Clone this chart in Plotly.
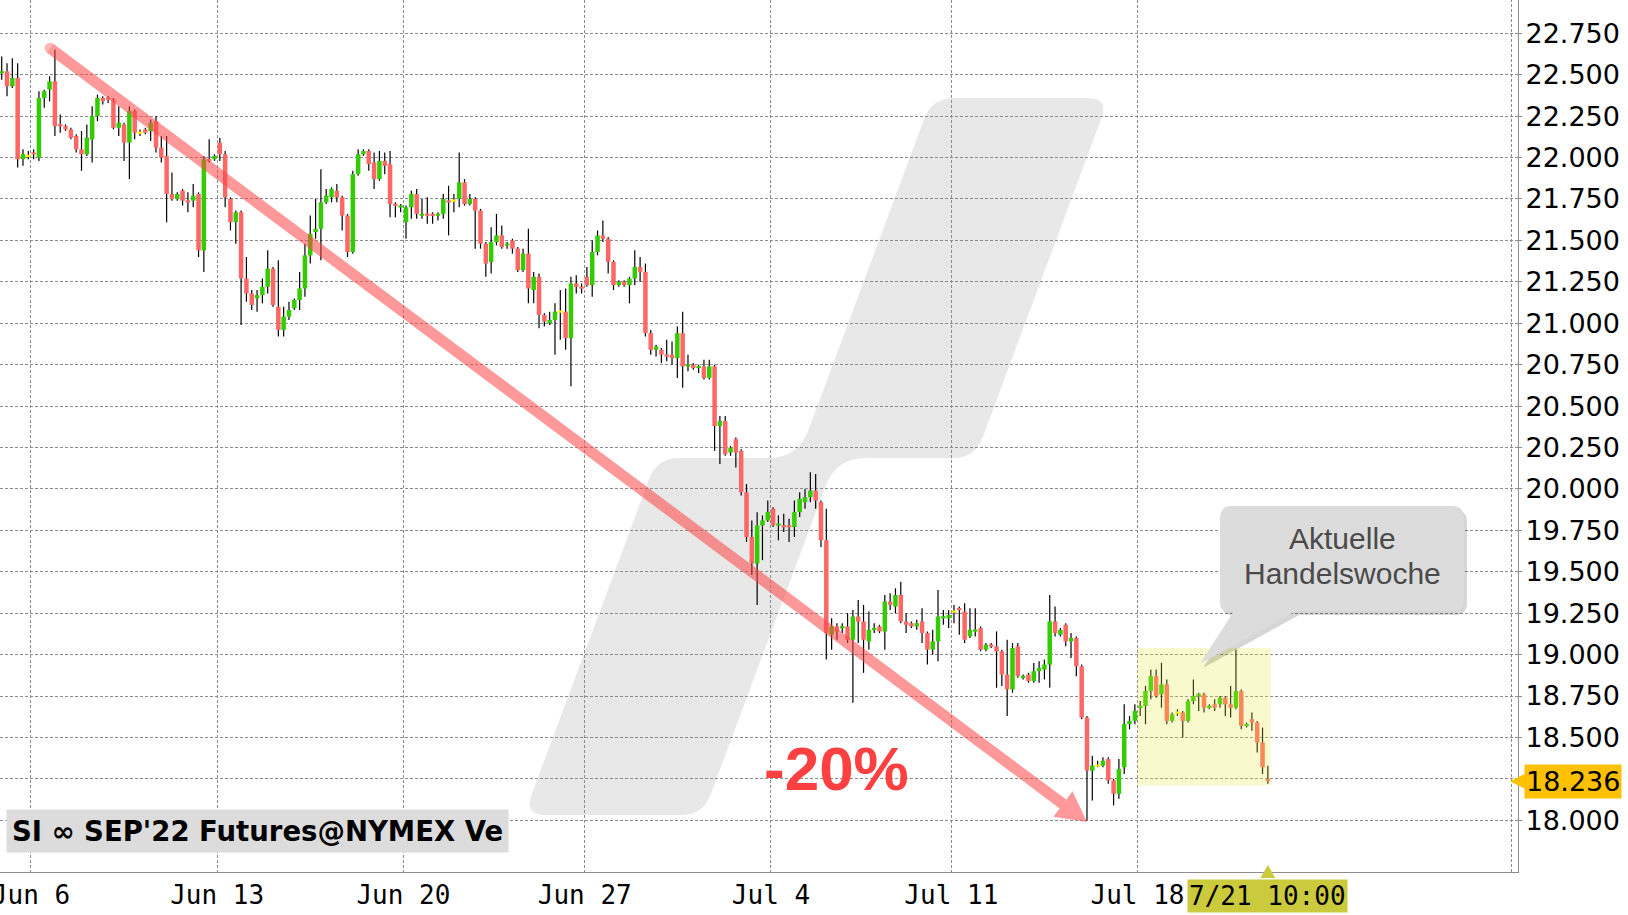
import math
import plotly.graph_objects as go

# ---------------- data ----------------
opens = [22.51,22.52,22.43,22.48,21.99,22.01,22.03,22.00,22.36,22.41,
         22.46,22.20,22.19,22.17,22.13,22.05,22.02,22.11,22.25,22.36,
         22.36,22.35,22.18,22.20,22.09,22.28,22.15,22.17,22.16,22.22,
         22.06,22.01,21.78,21.75,21.80,21.74,21.74,21.78,21.44,21.99,
         21.99,22.09,22.02,21.75,21.61,21.67,21.27,21.18,21.15,21.17,
         21.22,21.33,21.10,20.96,21.04,21.09,21.14,21.21,21.41,21.55,
         21.57,21.73,21.76,21.80,21.76,21.65,21.43,21.90,22.02,22.04,
         21.97,21.87,21.98,21.96,21.72,21.70,21.61,21.70,21.78,21.65,
         21.66,21.66,21.65,21.66,21.74,21.74,21.75,21.85,21.72,21.75,
         21.68,21.48,21.37,21.49,21.53,21.47,21.50,21.45,21.32,21.42,
         21.20,21.28,21.05,21.00,21.02,21.07,21.07,20.91,21.24,21.22,
         21.28,21.23,21.43,21.53,21.51,21.37,21.23,21.25,21.23,21.27,
         21.34,21.31,20.94,20.84,20.84,20.81,20.81,20.79,20.94,20.74,
         20.75,20.73,20.74,20.67,20.74,20.38,20.41,20.22,20.30,20.23,
         19.98,19.71,19.55,19.78,19.81,19.88,19.78,19.78,19.78,19.77,
         19.86,19.92,19.95,19.99,19.92,19.69,19.12,19.17,19.16,19.17,
         19.09,19.23,19.20,19.08,19.15,19.17,19.14,19.32,19.29,19.36,
         19.20,19.19,19.17,19.20,19.13,19.03,19.08,19.22,19.22,19.26,
         19.28,19.26,19.11,19.14,19.16,19.03,19.06,19.05,19.02,18.88,
         18.79,19.05,18.86,18.88,18.84,18.90,18.91,18.94,19.20,19.12,
         19.18,19.08,19.10,18.93,18.62,18.30,18.33,18.33,18.37,18.24,
         18.16,18.32,18.58,18.60,18.68,18.69,18.78,18.87,18.76,18.82,
         18.60,18.65,18.65,18.60,18.72,18.75,18.76,18.68,18.70,18.70,
         18.74,18.70,18.68,18.78,18.57,18.61,18.59,18.47,18.25]
highs = [22.61,22.57,22.60,22.57,22.05,22.04,22.05,22.40,22.41,22.49,
         22.65,22.26,22.20,22.18,22.14,22.16,22.20,22.31,22.38,22.37,
         22.37,22.36,22.31,22.21,22.31,22.29,22.17,22.18,22.23,22.25,
         22.13,22.13,21.91,21.79,21.81,21.79,21.84,21.79,22.01,22.11,
         22.02,22.12,22.04,21.76,21.68,21.68,21.40,21.20,21.20,21.27,
         21.44,21.34,21.38,21.10,21.13,21.15,21.31,21.48,21.65,21.75,
         21.93,21.81,21.82,21.84,21.77,21.66,21.92,22.05,22.05,22.05,
         22.03,22.04,22.03,22.04,21.73,21.72,21.71,21.80,21.81,21.75,
         21.76,21.67,21.67,21.78,21.83,21.78,22.03,21.87,21.78,21.76,
         21.69,21.49,21.58,21.66,21.59,21.49,21.51,21.46,21.45,21.57,
         21.31,21.30,21.06,21.07,21.12,21.20,21.21,21.28,21.29,21.24,
         21.34,21.50,21.56,21.62,21.52,21.38,21.26,21.26,21.28,21.44,
         21.40,21.36,20.96,20.87,20.85,20.90,20.89,20.98,21.07,20.81,
         20.76,20.75,20.78,20.78,20.75,20.44,20.44,20.26,20.31,20.24,
         20.03,19.81,19.86,19.84,19.93,19.89,19.84,19.85,19.82,19.93,
         19.98,20.00,20.10,20.09,19.93,19.88,19.22,19.19,19.19,19.25,
         19.27,19.33,19.30,19.26,19.19,19.18,19.36,19.37,19.40,19.44,
         19.25,19.20,19.21,19.28,19.14,19.15,19.39,19.27,19.27,19.30,
         19.29,19.31,19.28,19.28,19.17,19.07,19.07,19.14,19.03,19.09,
         19.07,19.07,18.88,18.89,18.95,18.96,18.97,19.36,19.29,19.16,
         19.19,19.13,19.11,18.94,18.63,18.39,18.36,18.38,18.38,18.25,
         18.37,18.70,18.63,18.70,18.72,18.81,18.91,18.91,18.95,18.85,
         18.65,18.67,18.66,18.73,18.85,18.77,18.77,18.70,18.73,18.75,
         18.75,18.81,19.03,18.79,18.59,18.65,18.60,18.56,18.33]
lows = [22.47,22.37,22.42,21.94,21.95,21.99,21.99,21.98,22.30,22.34,
        22.13,22.15,22.16,22.11,22.03,21.92,22.01,21.97,22.22,22.32,
        22.33,22.17,22.13,21.98,21.87,22.11,22.13,22.14,22.10,22.03,
        21.97,21.61,21.74,21.74,21.71,21.67,21.70,21.40,21.31,21.97,
        21.98,21.98,21.70,21.56,21.48,20.99,21.13,21.08,21.07,21.12,
        21.18,21.10,20.92,20.92,21.02,21.08,21.08,21.16,21.36,21.51,
        21.38,21.72,21.73,21.73,21.56,21.40,21.42,21.89,22.01,21.92,
        21.81,21.86,21.90,21.64,21.64,21.67,21.51,21.63,21.63,21.63,
        21.60,21.60,21.62,21.63,21.53,21.67,21.70,21.71,21.71,21.45,
        21.45,21.28,21.30,21.47,21.45,21.45,21.42,21.31,21.31,21.12,
        21.12,20.97,20.98,20.99,20.81,20.90,20.84,20.62,21.18,21.18,
        21.22,21.16,21.41,21.49,21.30,21.20,21.22,21.22,21.12,21.23,
        21.25,20.92,20.81,20.80,20.76,20.77,20.75,20.67,20.61,20.71,
        20.72,20.70,20.66,20.66,20.23,20.15,20.20,20.20,20.13,19.96,
        19.68,19.48,19.30,19.57,19.80,19.77,19.69,19.74,19.68,19.71,
        19.83,19.88,19.92,19.88,19.65,18.97,19.03,19.09,19.13,19.07,
        18.71,19.07,18.89,19.03,19.13,19.13,19.03,19.27,19.25,19.19,
        19.13,19.16,19.15,19.07,18.94,19.00,18.96,19.18,19.16,19.19,
        19.12,19.07,19.10,19.11,19.02,19.02,19.04,18.80,18.81,18.63,
        18.77,18.86,18.85,18.83,18.83,18.83,18.85,18.80,19.11,19.11,
        19.05,18.98,18.87,18.61,18.00,18.12,18.32,18.32,18.22,18.09,
        18.13,18.28,18.55,18.58,18.63,18.58,18.73,18.74,18.68,18.58,
        18.59,18.63,18.50,18.59,18.70,18.66,18.65,18.67,18.66,18.68,
        18.63,18.62,18.67,18.55,18.56,18.54,18.41,18.28,18.22]
closes = [22.52,22.43,22.48,21.99,22.02,22.01,22.02,22.36,22.40,22.46,
          22.19,22.19,22.17,22.12,22.05,22.02,22.12,22.25,22.36,22.34,
          22.35,22.18,22.21,22.09,22.28,22.15,22.15,22.15,22.21,22.06,
          22.00,21.78,21.75,21.78,21.74,21.73,21.77,21.44,21.99,21.98,
          22.01,22.02,21.76,21.61,21.67,21.27,21.18,21.11,21.17,21.22,
          21.33,21.11,20.96,21.04,21.08,21.14,21.21,21.41,21.54,21.57,
          21.73,21.77,21.81,21.76,21.65,21.43,21.90,22.02,22.04,21.96,
          21.87,21.98,21.95,21.72,21.71,21.71,21.70,21.78,21.66,21.66,
          21.65,21.65,21.66,21.75,21.73,21.74,21.85,21.72,21.75,21.68,
          21.48,21.36,21.49,21.53,21.46,21.48,21.45,21.32,21.42,21.21,
          21.28,21.05,21.01,21.02,21.07,21.07,20.91,21.24,21.22,21.21,
          21.23,21.43,21.53,21.51,21.37,21.23,21.25,21.23,21.27,21.34,
          21.31,20.94,20.84,20.86,20.81,20.80,20.79,20.94,20.74,20.75,
          20.73,20.74,20.67,20.74,20.38,20.41,20.21,20.25,20.22,19.98,
          19.71,19.55,19.78,19.81,19.86,19.78,19.79,19.77,19.77,19.86,
          19.94,19.95,19.99,19.93,19.69,19.13,19.17,19.14,19.17,19.09,
          19.23,19.20,19.09,19.15,19.16,19.14,19.32,19.30,19.36,19.20,
          19.18,19.17,19.19,19.13,19.03,19.08,19.23,19.23,19.24,19.26,
          19.27,19.09,19.15,19.15,19.03,19.06,19.05,19.02,18.88,18.79,
          19.04,18.87,18.87,18.84,18.90,18.92,18.94,19.20,19.13,19.15,
          19.08,19.10,18.93,18.62,18.30,18.33,18.33,18.36,18.24,18.16,
          18.31,18.58,18.60,18.66,18.69,18.78,18.87,18.75,18.82,18.60,
          18.64,18.65,18.60,18.72,18.75,18.76,18.68,18.69,18.68,18.74,
          18.70,18.68,18.78,18.57,18.58,18.59,18.47,18.32,18.236]

week_tick_pos = [5.5, 40.5, 75.5, 109.6, 144.6, 178.5, 213.5]
week_tick_text = ["Jun 6", "Jun 13", "Jun 20", "Jun 27", "Jul 4", "Jul 11", "Jul 18"]
price_ticks = [18.0, 18.25, 18.5, 18.75, 19.0, 19.25, 19.5, 19.75, 20.0, 20.25,
               20.5, 20.75, 21.0, 21.25, 21.5, 21.75, 22.0, 22.25, 22.5, 22.75]
price_tick_text = ["18.000", "18.250", "18.500", "18.750", "19.000", "19.250",
                   "19.500", "19.750", "20.000", "20.250", "20.500", "20.750",
                   "21.000", "21.250", "21.500", "21.750", "22.000", "22.250",
                   "22.500", "22.750"]
last_price_text = "18.236"
last_time_text = "7/21 10:00"
instrument_text = "SI \u221e SEP'22 Futures@NYMEX Ve"
trend_start = (9.08, 22.66)     # index, price
trend_end = (204.0, 17.99)
trend_label = "-20%"
callout_lines = ["Aktuelle", "Handelswoche"]

# ---------------- styling constants ----------------
W, H = 1628, 915
ML, MR, MT, MB = 0, 110, 0, 43
PW, PH = W - ML - MR, H - MT - MB
X_RANGE = [-0.32, 285.02]
Y_RANGE = [17.688, 22.951]
GREEN, RED, YELLOW = "#33cc00", "#ff6666", "#ffee00"
GRID = "#8c8c8c"
ARROW_RGB = (255, 70, 70)
ARROW_ALPHA = 0.55


def px(x):
    return x / PW


def py(y):
    return 1 - y / PH


def data_to_pix(i, p):
    return ((i - X_RANGE[0]) / (X_RANGE[1] - X_RANGE[0]) * PW,
            (Y_RANGE[1] - p) / (Y_RANGE[1] - Y_RANGE[0]) * PH)


def pix_to_data(x, y):
    return (X_RANGE[0] + x / PW * (X_RANGE[1] - X_RANGE[0]),
            Y_RANGE[1] - y / PH * (Y_RANGE[1] - Y_RANGE[0]))


def rounded_path(pts, radii):
    n = len(pts)
    corners = []
    for k in range(n):
        p0, p1, p2 = pts[k - 1], pts[k], pts[(k + 1) % n]
        r = radii[k]
        d1 = (p0[0] - p1[0], p0[1] - p1[1])
        d2 = (p2[0] - p1[0], p2[1] - p1[1])
        l1, l2 = math.hypot(*d1), math.hypot(*d2)
        a = (p1[0] + d1[0] / l1 * r, p1[1] + d1[1] / l1 * r)
        b = (p1[0] + d2[0] / l2 * r, p1[1] + d2[1] / l2 * r)
        corners.append((a, p1, b))
    f = lambda p: f"{px(p[0]):.5f},{py(p[1]):.5f}"
    s = "M " + f(corners[0][0])
    for a, c, b in corners:
        s += " L " + f(a) + " Q " + f(c) + " " + f(b)
    return s + " Z"


n = len(closes)
idx = list(range(n))

# wicks
wx, wy = [], []
for i in idx:
    wx += [i, i, None]
    wy += [lows[i], highs[i], None]

# bodies grouped by colour
bodies = {GREEN: ([], []), RED: ([], []), YELLOW: ([], [])}
MIN_BODY = 0.013
for i in idx:
    o, c = opens[i], closes[i]
    col = GREEN if c > o else (RED if c < o else YELLOW)
    lo, hi = min(o, c), max(o, c)
    if hi - lo < MIN_BODY:
        mid = (hi + lo) / 2
        lo, hi = mid - MIN_BODY / 2, mid + MIN_BODY / 2
    bodies[col][0].extend([i, i, None])
    bodies[col][1].extend([lo, hi, None])

fig = go.Figure()
fig.add_trace(go.Scatter(x=wx, y=wy, mode="lines", line=dict(color="black", width=1.2),
                         hoverinfo="skip"))
for col, (bx, by) in bodies.items():
    fig.add_trace(go.Scatter(x=bx, y=by, mode="lines", line=dict(color=col, width=4.5),
                             hoverinfo="skip"))

# trend arrow: shaft (trace) + head (shape), meeting at the head's base
sx, sy = data_to_pix(*trend_start)
tx, ty = data_to_pix(*trend_end)
L = math.hypot(tx - sx, ty - sy)
dx, dy = (tx - sx) / L, (ty - sy) / L
HEAD_LEN, HEAD_HALF = 30, 16
bx_, by_ = tx - HEAD_LEN * dx, ty - HEAD_LEN * dy
shaft_end = pix_to_data(bx_, by_)
arrow_col = "rgb(%d,%d,%d)" % ARROW_RGB
fig.add_trace(go.Scatter(
    x=[trend_start[0], shaft_end[0]], y=[trend_start[1], shaft_end[1]],
    mode="lines+markers",
    line=dict(color=arrow_col, width=11),
    marker=dict(symbol="circle", size=[11, 0], color=arrow_col, line=dict(width=0)),
    opacity=ARROW_ALPHA, hoverinfo="skip"))
w1 = (bx_ - HEAD_HALF * dy, by_ + HEAD_HALF * dx)
w2 = (bx_ + HEAD_HALF * dy, by_ - HEAD_HALF * dx)

shapes = []
# watermark logo
logo = [(932, 98), (1109, 98), (975, 458), (836, 458), (703, 815), (524, 815),
        (657, 458), (798, 458)]
shapes.append(dict(type="path", xref="paper", yref="paper",
                   path=rounded_path(logo, [22, 22, 22, 30, 22, 22, 22, 30]),
                   fillcolor="#e8e8e8", line=dict(width=0), layer="below"))
# right dotted border
shapes.append(dict(type="line", xref="x", yref="paper", x0=283.8, x1=283.8, y0=0, y1=1,
                   line=dict(color=GRID, width=1, dash="3px,2px"), layer="below"))
# arrow head
shapes.append(dict(type="path", xref="paper", yref="paper",
                   path=(f"M {px(tx):.5f},{py(ty):.5f} L {px(w1[0]):.5f},{py(w1[1]):.5f} "
                         f"L {px(w2[0]):.5f},{py(w2[1]):.5f} Z"),
                   fillcolor="rgba(%d,%d,%d,%.2f)" % (*ARROW_RGB, ARROW_ALPHA),
                   line=dict(width=0), layer="above"))
# current-week highlight
wk = [i for i in idx if i > week_tick_pos[-1]]
shapes.append(dict(type="rect", xref="x", yref="y", x0=week_tick_pos[-1], x1=wk[-1] + 0.5,
                   y0=min(lows[i] for i in wk) - 0.01, y1=max(highs[i] for i in wk) + 0.01,
                   fillcolor="rgba(227,235,55,0.25)", line=dict(width=0), layer="above"))
# callout with shadow
callout = [(1220, 506), (1464, 506), (1464, 611), (1296, 611), (1200, 664), (1234, 611),
           (1220, 611)]
callout_sh = [(x + 3, y + 4) for x, y in callout]
shapes.append(dict(type="path", xref="paper", yref="paper",
                   path=rounded_path(callout_sh, [12, 12, 12, 1, 2, 1, 8]),
                   fillcolor="rgba(0,0,0,0.16)", line=dict(width=0), layer="above"))
shapes.append(dict(type="path", xref="paper", yref="paper",
                   path=rounded_path(callout, [12, 12, 12, 1, 2, 1, 8]),
                   fillcolor="#dcdcdc", line=dict(width=0), layer="above"))
# last price pointer
lp = closes[-1]
shapes.append(dict(type="path", xref="paper", yref="y",
                   path=f"M {px(1510):.5f},{lp} L {px(1525):.5f},{lp + 0.045} L {px(1525):.5f},{lp - 0.045} Z",
                   fillcolor="#ffc000", line=dict(width=0), layer="above"))
# last time pointer
shapes.append(dict(type="path", xref="x", yref="paper",
                   path=f"M {n - 1},{py(865):.5f} L {n - 1 + 1.4},{py(878):.5f} L {n - 1 - 1.4},{py(878):.5f} Z",
                   fillcolor="#caca3c", line=dict(width=0), layer="above"))

annotations = [
    dict(text="<b>" + trend_label + "</b>", xref="paper", yref="paper", x=px(836), y=py(768),
         xanchor="center", yanchor="middle", showarrow=False,
         font=dict(family="Liberation Sans, Arial", size=62, color="#ff4040")),
    dict(text=callout_lines[0], xref="paper", yref="paper", x=px(1342), y=py(538),
         xanchor="center", yanchor="middle", showarrow=False,
         font=dict(family="Liberation Sans, Arial", size=30, color="#4a4a4a")),
    dict(text=callout_lines[1], xref="paper", yref="paper", x=px(1342), y=py(573),
         xanchor="center", yanchor="middle", showarrow=False,
         font=dict(family="Liberation Sans, Arial", size=30, color="#4a4a4a")),
    dict(text="<b>" + instrument_text + "</b>", xref="paper", yref="paper", x=px(6), y=py(831),
         xanchor="left", yanchor="middle", showarrow=False, bgcolor="#dcdcdc", borderpad=5,
         font=dict(family="DejaVu Sans", size=27.5, color="black")),
    dict(text=last_price_text, xref="paper", yref="y", x=px(1524), y=lp,
         xanchor="left", yanchor="middle", showarrow=False, bgcolor="#ffc000", borderpad=1,
         font=dict(family="DejaVu Sans", size=27, color="black")),
    dict(text=last_time_text, xref="x", yref="paper", x=n - 1, y=py(895.5),
         xanchor="center", yanchor="middle", showarrow=False, bgcolor="#caca3c", borderpad=1,
         font=dict(family="DejaVu Sans Mono", size=26, color="black")),
]

fig.update_layout(
    width=W, height=H, margin=dict(l=ML, r=MR, t=MT, b=MB, autoexpand=False),
    paper_bgcolor="white", plot_bgcolor="white", showlegend=False,
    shapes=shapes, annotations=annotations,
)
fig.update_xaxes(range=X_RANGE, tickvals=week_tick_pos, ticktext=week_tick_text,
                 automargin=False,
                 showgrid=True, gridcolor=GRID, gridwidth=1, griddash="3px,2px",
                 zeroline=False, showline=True, linecolor=GRID, linewidth=1.2,
                 ticks="", ticklabeloverflow="allow", ticklabelstandoff=0,
                 tickfont=dict(family="DejaVu Sans Mono", size=26, color="black"))
fig.update_yaxes(range=Y_RANGE, side="right", tickvals=price_ticks, ticktext=price_tick_text,
                 automargin=False,
                 showgrid=True, gridcolor=GRID, gridwidth=1, griddash="3px,2px",
                 zeroline=False, showline=True, linecolor=GRID, linewidth=1.2,
                 ticks="outside", ticklen=3, tickcolor=GRID, ticklabelstandoff=-2,
                 tickfont=dict(family="DejaVu Sans", size=27, color="black"))

fig.write_html("out.html", config={"displayModeBar": False},
               post_script="document.body.style.margin='0';document.body.style.overflow='hidden';")
